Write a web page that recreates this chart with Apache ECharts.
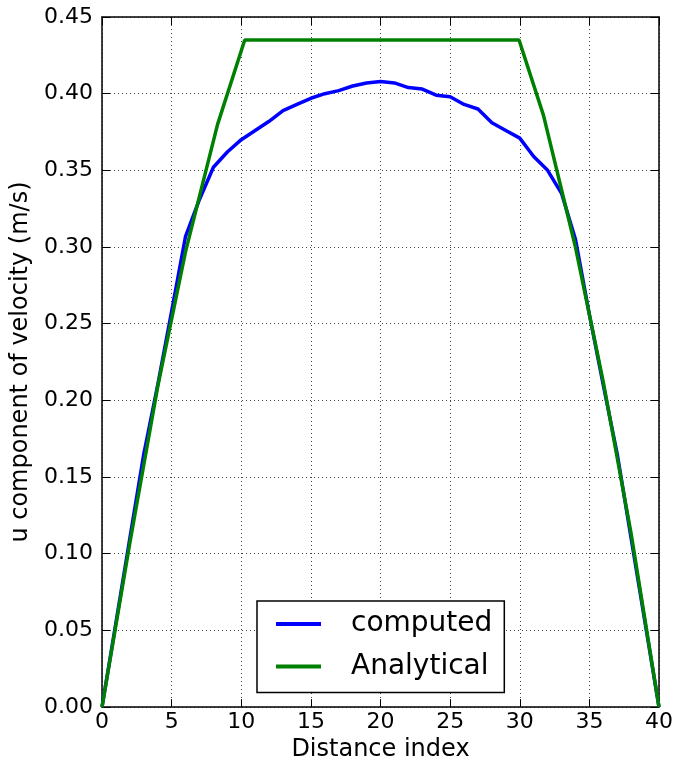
<!DOCTYPE html>
<html>
<head>
<meta charset="utf-8">
<script src="https://cdn.jsdelivr.net/npm/echarts@6/dist/echarts.min.js"></script>
<style>html,body{margin:0;padding:0;background:#fff;}#c{width:676px;height:767px;}</style>
</head>
<body>
<div id="c"></div>
<script>
// Computed u velocity at integer distance index 0..40
var computedX = [0,1,2,3,4,5,6,7,8,9,10,11,12,13,14,15,16,17,18,19,20,21,22,23,24,25,26,27,28,29,30,31,32,33,34,35,36,37,38,39,40];
var computedY = [0,0.055,0.11,0.165,0.21,0.258,0.307,0.331,0.352,0.362,0.370,0.376,0.382,0.389,0.393,0.397,0.400,0.402,0.405,0.407,0.408,0.407,0.404,0.403,0.399,0.398,0.393,0.390,0.381,0.376,0.371,0.359,0.350,0.335,0.305,0.256,0.21,0.165,0.11,0.055,0];
// Analytical profile
var analyticalX = [0,2,4,6,8.3,10.25,29.95,31.7,34,36,38,40];
var analyticalY = [0,0.107,0.209,0.297,0.380,0.435,0.435,0.386,0.300,0.212,0.113,0];
var xTicks = {min:0, max:40, interval:5};
var yTicks = {min:0, max:0.45, interval:0.05};

function pairs(xs, ys){ return xs.map(function(x,i){ return [x, ys[i]]; }); }

var font = 'DejaVu Sans';
var chart = echarts.init(document.getElementById('c'), null, {renderer:'canvas'});
var axisLine = {show:true, onZero:false, lineStyle:{color:'#000', width:1.5}};
var tick = {show:true, inside:true, length:8, lineStyle:{color:'#000', width:1}};
var grid = {show:true, lineStyle:{color:'#444', width:1, type:[1,3]}};
chart.setOption({
  animation:false,
  backgroundColor:'#fff',
  grid:{left:102, right:15, top:17, bottom:58, containLabel:false},
  legend:{
    orient:'vertical', left:257, top:601,
    padding:[8,12,11,19], itemGap:12.6,
    itemWidth:45, itemHeight:4,
    borderColor:'#000', borderWidth:1.5, backgroundColor:'#fff',
    textStyle:{fontFamily:font, fontSize:28, color:'#000', lineHeight:30, padding:[0,0,0,25]},
    data:[{name:'computed', icon:'rect'},{name:'Analytical', icon:'rect'}]
  },
  xAxis:[{
    type:'value', min:xTicks.min, max:xTicks.max, interval:xTicks.interval,
    name:'Distance index', nameLocation:'middle', nameGap:30,
    nameTextStyle:{fontFamily:font, fontSize:24, color:'#000'},
    axisLine:axisLine, axisTick:tick, splitLine:grid,
    axisLabel:{fontFamily:font, fontSize:22, color:'#000', margin:4}
  },{
    type:'value', position:'top', min:xTicks.min, max:xTicks.max, interval:xTicks.interval,
    axisLine:axisLine, axisTick:tick, splitLine:{show:false}, axisLabel:{show:false}
  }],
  yAxis:[{
    type:'value', min:yTicks.min, max:yTicks.max, interval:yTicks.interval,
    name:'u component of velocity (m/s)', nameLocation:'middle', nameGap:66, nameRotate:90,
    nameTextStyle:{fontFamily:font, fontSize:24, color:'#000'},
    axisLine:axisLine, axisTick:tick, splitLine:grid,
    axisLabel:{fontFamily:font, fontSize:22, color:'#000', margin:9, formatter:function(v){return v.toFixed(2);}}
  },{
    type:'value', position:'right', min:yTicks.min, max:yTicks.max, interval:yTicks.interval,
    axisLine:axisLine, axisTick:tick, splitLine:{show:false}, axisLabel:{show:false}
  }],
  series:[{
    name:'computed', type:'line', xAxisIndex:0, yAxisIndex:0, showSymbol:false, symbol:'none',
    data:pairs(computedX, computedY),
    lineStyle:{color:'#0000ff', width:3.5}, itemStyle:{color:'#0000ff'}, z:3
  },{
    name:'Analytical', type:'line', xAxisIndex:0, yAxisIndex:0, showSymbol:false, symbol:'none',
    data:pairs(analyticalX, analyticalY),
    lineStyle:{color:'#008000', width:3.5}, itemStyle:{color:'#008000'}, z:4
  }]
});
</script>
</body>
</html>
